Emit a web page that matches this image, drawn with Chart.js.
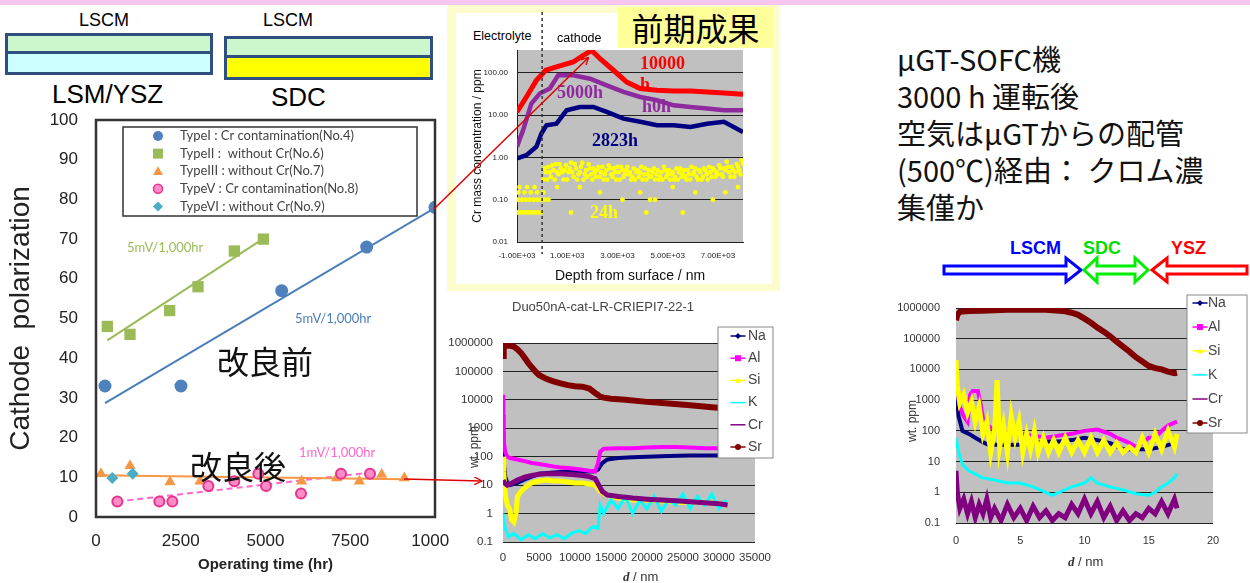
<!DOCTYPE html>
<html>
<head>
<meta charset="utf-8">
<script src="https://cdn.jsdelivr.net/npm/chart.js@4.4.1/dist/chart.umd.min.js"></script>
<style>
body{margin:0;width:1250px;height:583px;overflow:hidden;background:#fff;position:relative;font-family:"Liberation Sans",Arial,sans-serif}
.abs{position:absolute;white-space:nowrap}
canvas{position:absolute}
.jp{font-family:"Noto Sans CJK JP",sans-serif}
.ser{font-family:"Liberation Serif","Times New Roman",serif;font-weight:bold;font-size:18px;line-height:18px}
.lay{position:absolute;box-sizing:border-box;border:3px solid #2f4f7f}
.lay div{box-sizing:border-box}
</style>
</head>
<body>
<div class="abs" style="left:0;top:0;width:1250px;height:5px;background:#f6c6f1"></div>

<!-- cell layer sketches -->
<div class="abs" style="left:79px;top:10px;font-size:18px">LSCM</div>
<div class="abs" style="left:263px;top:10px;font-size:18px">LSCM</div>
<div class="lay" style="left:5px;top:33px;width:208px;height:42px">
  <div style="height:18px;background:#ccf7cc;border-bottom:3px solid #2f4f7f"></div>
  <div style="height:18px;background:#ccffff"></div>
</div>
<div class="lay" style="left:224px;top:36px;width:209px;height:44px">
  <div style="height:19px;background:#ccf7cc;border-bottom:3px solid #2f4f7f"></div>
  <div style="height:19px;background:#ffff00"></div>
</div>
<div class="abs" style="left:52px;top:79px;font-size:26px">LSM/YSZ</div>
<div class="abs" style="left:271px;top:82px;font-size:26px">SDC</div>

<!-- frame of the earlier result -->
<div class="abs" style="left:447px;top:5px;width:333px;height:286px;background:#fdfccc"></div>
<div class="abs" style="left:456px;top:13px;width:316px;height:271px;background:#fff"></div>
<div class="abs jp" style="left:618px;top:7px;width:155px;height:41px;background:#ffff99;font-size:32px;line-height:41px;text-align:center">前期成果</div>

<canvas id="main" width="450" height="473" style="left:0;top:110px"></canvas>
<canvas id="crdepth" width="310" height="275" style="left:455px;top:12px"></canvas>
<canvas id="elemA" width="340" height="268" style="left:440px;top:315px"></canvas>
<canvas id="elemB" width="370" height="293" style="left:880px;top:290px"></canvas>

<!-- main chart notes -->
<div class="abs" style="left:127px;top:239px;font-size:13px;color:#9bbb59;font-family:Lato,sans-serif">5mV/1,000hr</div>
<div class="abs" style="left:295px;top:310px;font-size:13px;color:#4a7ebb;font-family:Lato,sans-serif">5mV/1,000hr</div>
<div class="abs" style="left:299px;top:444px;font-size:13px;color:#ff66cc;font-family:Lato,sans-serif">1mV/1,000hr</div>
<div class="abs jp" style="left:217px;top:338px;font-size:32px;line-height:44px;color:#111">改良前</div>
<div class="abs jp" style="left:190px;top:443px;font-size:32px;line-height:44px;color:#111">改良後</div>

<!-- Cr depth chart notes -->
<div class="abs" style="left:472px;top:28px;font-size:12.5px;background:#fff;padding:1px 1px">Electrolyte</div>
<div class="abs" style="left:553px;top:30px;font-size:12.5px;background:#fff;padding:1px 4px">cathode</div>
<div class="abs ser" style="left:640px;top:54px;color:#ff0000">10000</div>
<div class="abs ser" style="left:640px;top:75px;color:#ff0000">h</div>
<div class="abs ser" style="left:557px;top:83px;color:#8e2a9e">5000h</div>
<div class="abs ser" style="left:642px;top:97px;color:#8e2a9e">h0h</div>
<div class="abs ser" style="left:592px;top:131px;color:#000080">2823h</div>
<div class="abs ser" style="left:590px;top:203px;color:#ffff00">24h</div>

<!-- element profile notes -->
<div class="abs" style="left:512px;top:299px;font-size:13px;color:#444">Duo50nA-cat-LR-CRIEPI7-22-1</div>
<div class="abs" style="left:467px;top:468px;font-size:12px;color:#333;transform:rotate(-90deg);transform-origin:left top">wt. ppm</div>
<div class="abs" style="left:623px;top:569px;font-size:13px;color:#333"><i style="font-family:'Liberation Serif',serif;font-weight:bold">d</i> / nm</div>
<div class="abs" style="left:905px;top:442px;font-size:12px;color:#333;transform:rotate(-90deg);transform-origin:left top">wt. ppm</div>
<div class="abs" style="left:1068px;top:554px;font-size:13px;color:#333"><i style="font-family:'Liberation Serif',serif;font-weight:bold">d</i> / nm</div>

<!-- right notes -->
<div class="abs jp" style="left:897px;top:40px;font-size:29px;line-height:37px;color:#111">μGT-SOFC機<br>3000 h 運転後<br>空気はμGTからの配管<br>(500℃)経由： クロム濃<br>集僅か</div>
<div class="abs" style="left:1010px;top:238px;font-size:18px;font-weight:bold;color:#0000ff;font-family:'Liberation Sans Narrow','Liberation Sans',sans-serif">LSCM</div>
<div class="abs" style="left:1083px;top:238px;font-size:18px;font-weight:bold;color:#00dd00;font-family:'Liberation Sans Narrow','Liberation Sans',sans-serif">SDC</div>
<div class="abs" style="left:1171px;top:238px;font-size:18px;font-weight:bold;color:#ff0000;font-family:'Liberation Sans Narrow','Liberation Sans',sans-serif">YSZ</div>

<svg class="abs" width="1250" height="583" style="left:0;top:0;pointer-events:none">
  <defs>
    <marker id="ah" markerWidth="8" markerHeight="8" refX="7" refY="4" orient="auto" markerUnits="userSpaceOnUse">
      <path d="M0,0 L8,4 L0,8" fill="none" stroke="#e00000" stroke-width="1.3"/>
    </marker>
  </defs>
  <line x1="434" y1="209" x2="588" y2="58" stroke="#e00000" stroke-width="1.5" marker-end="url(#ah)"/>
  <line x1="404" y1="479" x2="481" y2="481" stroke="#e00000" stroke-width="1.5" marker-end="url(#ah)"/>
  <polygon points="944,266 1066,266 1066,258 1081,270 1066,282 1066,274 944,274" fill="#fff" stroke="#0000ff" stroke-width="3"/>
  <polygon points="1084,270 1097,258 1097,266 1135,266 1135,258 1148,270 1135,282 1135,274 1097,274 1097,282" fill="#fff" stroke="#00ee00" stroke-width="3"/>
  <polygon points="1152,270 1167,258 1167,266 1247,266 1247,274 1167,274 1167,282" fill="#fff" stroke="#ff0000" stroke-width="3"/>
</svg>

<script>
// ---- cathode polarization vs operating time (hr, mV) ----
const typeI   = [[265,33],[2507,33],[5477,57],[7984,68],[10000,78]];
const typeII  = [[334,48],[1003,46],[2173,52],[3009,58],[4081,67],[4936,70]];
const typeIII = [[147,10.9],[1003,12.9],[2183,8.8],[3068,9],[6067,9],[7099,9.8],[7768,9],[8427,10.7],[9095,9.8]];
const typeV   = [[629,3.9],[1868,3.9],[2252,3.9],[3314,7.8],[4081,9],[4789,10.9],[5015,7.8],[6047,5.9],[7227,10.9],[8083,10.9]];
const typeVI  = [[482,9.8],[1082,10.9]];
const fitI    = [[265,28.7],[10000,77.9]];
const fitII   = [[334,44.5],[4936,70.1]];
const fitIII  = [[0,10.5],[9095,9.5]];
const fitV    = [[629,3.9],[8083,11.2]];
const typeLabels = ['TypeI : Cr contamination(No.4)', 'TypeII :  without Cr(No.6)', 'TypeIII : without Cr(No.7)',
  'TypeV : Cr contamination(No.8)', 'TypeVI : without Cr(No.9)'];

// ---- Cr depth profiles (nm, ppm) ----
const cr10000h = [[-1000,12],[-627,27],[-227,67],[147,116],[573,139],[1240,182],[1640,261],[1973,340],[2307,218],[2840,116],
  [3373,61],[3907,43],[4573,39],[5240,37.6],[5907,37.6],[6573,35.6],[7240,33.7],[8000,31.3]];
const cr5000h = [[-1000,1.8],[-760,4.4],[-427,18.9],[-93,32.5],[307,43],[640,88],[1240,88],[1907,73],[2573,51],[3240,35.6],
  [3907,27],[4573,22.6],[5240,17.2],[5907,15.7],[6573,14.4],[7240,13.1],[8000,13.1]];
const cr2823h = [[-1000,0.95],[-627,1.13],[-227,1.8],[-27,3.7],[173,5.8],[573,6.3],[973,13.1],[1507,15.7],[2040,15.7],[2573,12],
  [3240,8.3],[3907,7],[4573,5.8],[5240,5.8],[5907,5.3],[6573,6.3],[7240,7],[8000,4]];
const cr24h = [[-950,0.05],[-850,0.05],[-750,0.05],[-650,0.05],[-550,0.05],[-450,0.05],[-350,0.05],[-250,0.05],[-150,0.05],[-50,0.05],
  [-950,0.1],[-800,0.1],[-650,0.1],[-500,0.1],[-350,0.1],[-200,0.1],[-50,0.1],[100,0.1],[250,0.1],
  [-950,0.15],[-700,0.15],[-450,0.15],[-200,0.15],[50,0.15],[-900,0.2],[-600,0.2],[-300,0.2],
  [50,0.3],[150,0.45],[250,0.6],[350,0.35],[450,0.5],[550,0.7],[650,0.4],[750,0.55],[850,0.3],[950,0.65],[1050,0.45],[1150,0.75],
  [1250,0.35],[1350,0.55],[1450,0.4],[1550,0.6],[1650,0.3],[1750,0.5],[1850,0.7],[1950,0.4],[2050,0.55],[2150,0.35],[2250,0.6],
  [2350,0.45],[2450,0.3],[2550,0.5],[2650,0.65],[2750,0.4],[2850,0.55],[2950,0.3],[3050,0.45],[3150,0.6],[3250,0.35],[3350,0.5],
  [3450,0.4],[3550,0.3],[3650,0.55],[3750,0.45],[3850,0.35],[3950,0.6],[4050,0.4],[4150,0.3],[4250,0.5],[4350,0.35],[4450,0.55],
  [4550,0.4],[4650,0.3],[4750,0.45],[4850,0.6],[4950,0.35],[5050,0.5],[5150,0.4],[5250,0.3],[5350,0.55],[5450,0.45],[5550,0.35],
  [5650,0.5],[5750,0.3],[5850,0.4],[5950,0.6],[6050,0.45],[6150,0.35],[6250,0.5],[6350,0.3],[6450,0.55],[6550,0.4],[6650,0.6],
  [6750,0.35],[6850,0.5],[6950,0.45],[7050,0.65],[7150,0.4],[7250,0.55],[7350,0.8],[7450,0.45],[7550,0.6],[7650,0.35],[7750,0.7],
  [7850,0.5],[7950,0.85],[1150,0.05],[3200,0.1],[4300,0.1],[4500,0.1],[4150,0.05],[5600,0.05],[6800,0.1],[7300,0.15],
  [2300,0.15],[3900,0.15],[6100,0.15],[600,0.2],[1500,0.2],[5200,0.2],[7800,0.2],
  [100,0.55],[200,0.3],[300,0.45],[400,0.65],[500,0.3],[600,0.45],[700,0.7],[800,0.45],[900,0.5],[1000,0.3],[1100,0.55],[1200,0.45],
  [1300,0.7],[1400,0.3],[1500,0.45],[1600,0.75],[1700,0.4],[1800,0.35],[1900,0.55],[2000,0.3],[2100,0.45],[2200,0.5],[2300,0.35],
  [2400,0.6],[2500,0.4],[2600,0.3],[2700,0.55],[2800,0.35],[2900,0.45],[3000,0.6],[3100,0.3],[3200,0.5],[3300,0.4],[3400,0.6],
  [3500,0.45],[3600,0.35],[3700,0.3],[3800,0.5],[3900,0.45],[4000,0.3],[4100,0.55],[4200,0.4],[4300,0.35],[4400,0.45],[4500,0.3],
  [4600,0.5],[4700,0.35],[4800,0.3],[4900,0.5],[5000,0.4],[5100,0.3],[5200,0.45],[5300,0.35],[5400,0.3],[5500,0.55],[5600,0.4],
  [5700,0.35],[5800,0.5],[5900,0.3],[6000,0.4],[6100,0.55],[6200,0.3],[6300,0.45],[6400,0.35],[6500,0.5],[6600,0.3],[6700,0.45],
  [6800,0.55],[6900,0.35],[7000,0.4],[7100,0.55],[7200,0.35],[7300,0.5],[7400,0.6],[7500,0.35],[7600,0.5],[7700,0.45],[7800,0.6],
  [7900,0.4],[8000,0.7]];
const crDecades = [0.01, 0.1, 1, 10, 100];
const crDepthTicks = [-1000, 1000, 3000, 5000, 7000];

// ---- element profiles, earlier cell (nm, wt ppm) ----
const naA = [[0,3000],[50,800],[150,50],[300,20],[600,12],[1000,10],[2000,12],[3000,16],[4000,20],[5000,25],[7000,28],[9000,30],
  [11000,30],[12500,30],[13200,35],[13800,60],[14500,80],[16000,90],[18000,95],[20000,100],[23000,105],[26000,110],[29000,110],[31200,110]];
const alA = [[0,15000],[50,1300],[150,300],[300,150],[600,100],[1000,90],[2000,80],[3000,70],[4000,60],[5000,55],[6000,50],[7000,45],
  [8000,42],[9000,40],[10000,38],[11000,35],[12000,32],[12800,30],[13200,60],[13500,150],[14000,190],[16000,200],[18000,200],
  [20000,210],[22000,220],[24000,220],[26000,210],[28000,200],[30000,200],[31200,190]];
const siA = [[0,100],[100,30],[300,5],[600,2],[900,1.5],[1200,0.6],[1500,0.5],[1800,1],[2000,4],[2500,6],[3000,8],[3500,10],
  [4000,12],[5000,14],[6000,15],[7000,14],[8000,14],[9000,13],[10000,12],[11000,12],[12000,11],[12800,10],[13500,6],[14000,5],
  [15000,4],[16000,3.5],[18000,3],[20000,3],[22000,2.8],[24000,2.5],[26000,2.5],[28000,2.5],[30000,2.2],[31200,2]];
const kA = [[0,1],[300,0.3],[800,0.15],[1500,0.2],[2500,0.12],[3500,0.18],[4500,0.13],[5500,0.2],[6500,0.14],[7500,0.18],
  [8500,0.13],[9500,0.2],[10500,0.25],[11500,0.2],[12500,0.35],[13200,0.3],[13500,2],[14000,1],[15000,3],[16000,1.5],[17000,4],
  [18000,1],[19000,3],[20000,1.5],[21000,4],[22000,1.2],[23000,3],[24000,2],[25000,5],[26000,1.5],[27000,4],[28000,2],[29000,5],
  [30000,1.5],[31000,3]];
const crA = [[0,15],[200,12],[600,10],[1000,11],[2000,15],[3000,19],[4000,22],[5000,24],[6000,25],[7000,25],[8000,25],[9000,24],
  [10000,23],[11000,22],[12000,20],[12800,17],[13300,10],[13800,6],[14500,4.5],[16000,4],[18000,3.5],[20000,3.2],[22000,3],
  [24000,2.8],[26000,2.6],[28000,2.4],[30000,2.2],[31200,2]];
const srA = [[0,350000],[100,700000],[300,800000],[1000,800000],[1500,750000],[2000,600000],[2500,450000],[3000,300000],
  [3500,200000],[4000,140000],[4500,100000],[5000,75000],[6000,55000],[7000,45000],[8000,38000],[9000,33000],[10000,30000],
  [11000,29000],[12000,25000],[12500,20000],[13000,16000],[13500,13000],[14000,12000],[15000,11000],[17000,10000],[20000,8500],
  [23000,7500],[26000,6500],[29000,5500],[31000,5000]];

// ---- element profiles, μGT-SOFC after 3000 h (nm, wt ppm) ----
const naB = [[0,3000],[0.2,300],[0.5,100],[1,80],[1.5,60],[2,45],[2.5,35],[3,35],[4,35],[5,35],[6,40],[7,45],[8,45],[9,50],
  [10,60],[11,50],[12,40],[13,25],[14,25],[15,25],[16,30],[17,40]];
const alB = [[0,10000],[0.1,2000],[0.3,600],[0.6,300],[0.9,200],[1.1,1500],[1.3,2000],[1.7,2000],[1.9,800],[2.1,250],[2.5,150],
  [3,100],[3.5,100],[4,90],[5,80],[6,70],[7,60],[8,70],[9,80],[10,100],[11,110],[12,80],[12.5,60],[13,50],[13.5,40],[14,30],
  [14.5,40],[15,60],[15.5,60],[16,100],[16.5,150],[17.2,200]];
const siB = [[0,20000],[0.1,3000],[0.3,800],[0.6,1500],[0.9,400],[1.2,900],[1.5,200],[1.8,600],[2.1,80],[2.4,200],[2.7,20],
  [3,100],[3.2,4500],[3.4,30],[3.7,150],[4,20],[4.3,300],[4.6,60],[4.9,200],[5.2,20],[5.5,80],[5.8,25],[6.1,100],[6.4,20],
  [6.8,60],[7.2,20],[7.6,50],[8,20],[8.5,60],[9,20],[9.5,50],[10,20],[10.5,60],[11,20],[11.5,50],[12,20],[12.5,40],[13,20],
  [13.5,30],[14,20],[14.5,60],[15,20],[15.5,80],[16,25],[16.5,100],[17,30],[17.2,80]];
const kB = [[0,60],[0.2,20],[0.5,8],[1,5],[1.5,4],[2,3],[3,2.5],[4,2],[5,2],[6,1.5],[7,1],[7.5,0.8],[8,1],[9,1.5],[10,2],
  [10.5,3],[11,2],[12,1.5],[13,1.2],[14,0.9],[15,0.8],[15.5,1],[16,1.5],[16.5,2],[17,3],[17.2,4]];
const crB = [[0,5],[0.1,1],[0.3,0.3],[0.6,0.6],[0.9,0.2],[1.2,0.5],[1.5,0.15],[1.8,0.4],[2.1,0.2],[2.4,0.6],[2.7,0.15],[3,0.3],
  [3.5,0.12],[4,0.4],[4.5,0.15],[5,0.3],[5.5,0.12],[6,0.35],[6.5,0.15],[7,0.25],[7.5,0.12],[8,0.2],[8.5,0.15],[9,0.4],[9.5,0.2],
  [10,0.6],[10.5,0.2],[11,0.5],[11.5,0.15],[12,0.35],[12.5,0.12],[13,0.25],[13.5,0.12],[14,0.2],[14.5,0.15],[15,0.3],[15.5,0.2],
  [16,0.5],[16.5,0.2],[17,0.6],[17.2,0.3]];
const srB = [[0,400000],[0.1,600000],[0.3,750000],[1,800000],[2,820000],[3,850000],[4,880000],[5,880000],[6,900000],[7,880000],
  [8,820000],[8.5,780000],[9,700000],[9.5,600000],[10,450000],[10.5,330000],[11,230000],[11.5,170000],[12,120000],[12.5,80000],
  [13,55000],[13.5,38000],[14,25000],[14.5,18000],[15,13000],[15.5,11000],[16,10000],[16.5,8500],[17,7500],[17.2,7800]];
const elemDecades = [0.1, 1, 10, 100, 1000, 10000, 100000, 1000000];
const elemNames = ['Na', 'Al', 'Si', 'K', 'Cr', 'Sr'];

const xy = a => a.map(([x, y]) => ({x, y}));

function drawMarker(c, style, x, y, r, fill, stroke) {
  c.beginPath();
  if (style === 'circle') c.arc(x, y, r, 0, Math.PI * 2);
  else if (style === 'rect') c.rect(x - r, y - r, 2 * r, 2 * r);
  else if (style === 'rectRot') { c.moveTo(x, y - r); c.lineTo(x + r, y); c.lineTo(x, y + r); c.lineTo(x - r, y); c.closePath(); }
  else if (style === 'triangle') { c.moveTo(x, y - r); c.lineTo(x + r, y + r * 0.75); c.lineTo(x - r, y + r * 0.75); c.closePath(); }
  else if (style === 'cross') { c.moveTo(x - r, y); c.lineTo(x + r, y); }
  else if (style === 'star') { c.moveTo(x - r, y - r); c.lineTo(x + r, y + r); c.moveTo(x - r, y + r); c.lineTo(x + r, y - r); c.moveTo(x, y - r); c.lineTo(x, y + r); }
  if (fill && style !== 'cross' && style !== 'star') { c.fillStyle = fill; c.fill(); }
  if (stroke) { c.strokeStyle = stroke; c.lineWidth = 1.5; c.stroke(); }
}

const plotBg = {
  id: 'plotBg',
  beforeDraw(chart, args, o) {
    if (!o.color) return;
    const {left, top, width, height} = chart.chartArea;
    chart.ctx.save();
    chart.ctx.fillStyle = o.color;
    chart.ctx.fillRect(left, top, width, height);
    chart.ctx.restore();
  }
};

const frame = {
  id: 'frame',
  afterDraw(chart, args, o) {
    if (!o.color) return;
    const {left, top, width, height} = chart.chartArea;
    const c = chart.ctx;
    c.save();
    c.strokeStyle = o.color;
    c.lineWidth = o.width;
    c.strokeRect(left, top, width, height);
    c.restore();
  }
};

const vDash = {
  id: 'vDash',
  afterDraw(chart, args, o) {
    if (o.at === undefined) return;
    const c = chart.ctx;
    const px = chart.scales.x.getPixelForValue(o.at);
    c.save();
    c.setLineDash([3, 3]);
    c.strokeStyle = '#333';
    c.lineWidth = 1.5;
    c.beginPath();
    c.moveTo(px, 0);
    c.lineTo(px, chart.chartArea.bottom + 12);
    c.stroke();
    c.restore();
  }
};

const boxLegend = {
  id: 'boxLegend',
  afterDraw(chart, args, o) {
    if (!o.items) return;
    const c = chart.ctx;
    c.save();
    c.fillStyle = '#fff';
    c.fillRect(o.x, o.y, o.w, o.h);
    c.strokeStyle = o.border;
    c.lineWidth = o.borderWidth;
    c.strokeRect(o.x, o.y, o.w, o.h);
    c.font = o.font;
    c.textBaseline = 'middle';
    o.items.forEach((it, i) => {
      const y = o.y0 + i * o.dy;
      if (o.lineLen) {
        c.strokeStyle = it.color;
        c.lineWidth = 1.5;
        c.beginPath();
        c.moveTo(o.mx - o.lineLen / 2, y);
        c.lineTo(o.mx + o.lineLen / 2, y);
        c.stroke();
      }
      drawMarker(c, it.style, o.mx, y, it.r, it.color, it.stroke);
      c.fillStyle = o.textColor;
      c.fillText(it.text, o.tx, y);
    });
    c.restore();
  }
};

Chart.register(plotBg, frame, vDash, boxLegend);
Chart.defaults.font.family = '"Liberation Sans", Arial, sans-serif';
Chart.defaults.color = '#222';

// keep the plot boxes where they are, whatever the tick labels stick out
const fixX = h => s => { s.height = h; s.paddingLeft = 0; s.paddingRight = 0; };
const fixY = w => s => { s.width = w; s.paddingTop = 0; s.paddingBottom = 0; };

function fitLine(data, color, dash) {
  return {data: xy(data), showLine: true, borderColor: color, borderWidth: 2, borderDash: dash || [], pointRadius: 0, tension: 0};
}
function marks(data, style, r, fill, stroke) {
  return {data: xy(data), pointStyle: style, pointRadius: r, backgroundColor: fill,
    borderColor: stroke || fill, borderWidth: stroke ? 2 : 0, showLine: false};
}

// main chart
new Chart(document.getElementById('main'), {
  type: 'scatter',
  data: {
    datasets: [
      marks(typeI, 'circle', 6.5, '#4f81bd'),
      marks(typeII, 'rect', 8, '#9bbb59'),
      marks(typeV, 'circle', 5, '#ff8cc6', '#e8338f'),
      marks(typeVI, 'rectRot', 6, '#4bacc6'),
      marks(typeIII, 'triangle', 6.5, '#f79646'),
      fitLine(fitI, '#4a7ebb'),
      fitLine(fitII, '#9bbb59'),
      fitLine(fitIII, '#f79646'),
      fitLine(fitV, '#ff66cc', [6, 4])
    ]
  },
  options: {
    responsive: false,
    animation: false,
    devicePixelRatio: 1,
    layout: {padding: {left: 0, top: 10, right: 15, bottom: 0}},
    scales: {
      x: {
        type: 'linear', min: 0, max: 10000,
        afterFit: fixX(66),
        grid: {display: false, drawTicks: false},
        border: {display: false},
        ticks: {stepSize: 2500, padding: 14, font: {size: 17}, color: '#222', maxRotation: 0, autoSkip: false, callback: v => String(v)},
        title: {display: true, text: 'Operating time (hr)', font: {size: 15, weight: 'bold'}, color: '#222', padding: {top: 4, bottom: 9}}
      },
      y: {
        min: 0, max: 100,
        afterFit: fixY(96),
        grid: {display: false, drawTicks: false},
        border: {display: false},
        ticks: {stepSize: 10, padding: 18, font: {size: 17}, color: '#222'},
        title: {display: true, text: 'Cathode  polarization', font: {size: 28}, color: '#222', padding: {top: 4, bottom: 4}}
      }
    },
    plugins: {
      legend: {display: false},
      tooltip: {enabled: false},
      frame: {color: '#333', width: 2.5},
      boxLegend: {
        x: 123, y: 17, w: 294, h: 89, border: '#333', borderWidth: 1.5,
        y0: 26, dy: 17.6, mx: 158, tx: 180, font: '13px Lato, sans-serif', textColor: '#444',
        items: [
          {text: typeLabels[0], style: 'circle', r: 5, color: '#4f81bd'},
          {text: typeLabels[1], style: 'rect', r: 5, color: '#9bbb59'},
          {text: typeLabels[2], style: 'triangle', r: 5, color: '#f79646'},
          {text: typeLabels[3], style: 'circle', r: 4.5, color: '#ff8cc6', stroke: '#e8338f'},
          {text: typeLabels[4], style: 'rectRot', r: 5, color: '#4bacc6'}
        ]
      }
    }
  }
});

// Cr depth profiles
new Chart(document.getElementById('crdepth'), {
  type: 'scatter',
  data: {
    datasets: [
      {data: xy(cr10000h), showLine: true, borderColor: '#ff0000', borderWidth: 5, pointRadius: 0},
      {data: xy(cr5000h), showLine: true, borderColor: '#8e2a9e', borderWidth: 4.5, pointRadius: 0},
      {data: xy(cr2823h), showLine: true, borderColor: '#000080', borderWidth: 4.5, pointRadius: 0},
      {data: xy(cr24h), showLine: false, backgroundColor: '#ffff00', borderWidth: 0, pointRadius: 2.4}
    ]
  },
  options: {
    responsive: false,
    animation: false,
    devicePixelRatio: 1,
    layout: {padding: {left: 0, top: 38, right: 22, bottom: 0}},
    scales: {
      x: {
        type: 'linear', min: -1000, max: 8000,
        afterFit: fixX(45),
        afterBuildTicks: s => { s.ticks = crDepthTicks.map(v => ({value: v})); },
        grid: {display: false, drawTicks: false},
        border: {display: true, color: '#222', width: 1},
        ticks: {padding: 9, font: {size: 8}, color: '#222', maxRotation: 0, autoSkip: false,
          callback: v => (v < 0 ? '-' : '') + (Math.abs(v) / 1000).toFixed(2) + 'E+03'},
        title: {display: true, text: 'Depth from surface / nm', font: {size: 14}, color: '#111', padding: {top: 2, bottom: 2}}
      },
      y: {
        type: 'logarithmic', min: 0.01, max: 350,
        afterFit: fixY(62),
        afterBuildTicks: s => { s.ticks = crDecades.map(v => ({value: v})); },
        grid: {color: '#222', lineWidth: 1, drawTicks: false},
        border: {display: true, color: '#222', width: 1},
        ticks: {padding: 9, font: {size: 8}, color: '#222', callback: v => Number(v).toFixed(2)},
        title: {display: true, text: 'Cr mass concentration / ppm', font: {size: 12}, color: '#111', padding: {top: 15, bottom: 2}}
      }
    },
    plugins: {
      legend: {display: false},
      tooltip: {enabled: false},
      plotBg: {color: '#c0c0c0'},
      vDash: {at: 0}
    }
  }
});

const elemColors = ['#000080', '#ff00ff', '#ffff00', '#00ffff', '#800080', '#800000'];
const elemStyles = ['rectRot', 'rect', 'triangle', 'cross', 'star', 'circle'];
const elemWidths = [4, 4, 5, 3, 5, 6];

function elemChart(id, series, xMax, xStep, pad, axisW, axisH, yPad, xPad, tickSize, legend) {
  new Chart(document.getElementById(id), {
    type: 'scatter',
    data: {
      datasets: series.map((s, i) => ({
        data: xy(s), showLine: true, borderColor: elemColors[i], borderWidth: elemWidths[i], pointRadius: 0, tension: 0,
        order: i === 5 ? 0 : 6 - i
      }))
    },
    options: {
      responsive: false,
      animation: false,
      devicePixelRatio: 1,
      layout: {padding: pad},
      scales: {
        x: {
          type: 'linear', min: 0, max: xMax,
          afterFit: fixX(axisH),
          grid: {display: false, drawTicks: false},
          border: {display: false},
          ticks: {stepSize: xStep, padding: xPad, font: {size: tickSize}, color: '#333', maxRotation: 0, autoSkip: false,
            callback: v => String(v)}
        },
        y: {
          type: 'logarithmic', min: 0.1, max: 1000000,
          afterFit: fixY(axisW),
          afterBuildTicks: s => { s.ticks = elemDecades.map(v => ({value: v})); },
          grid: {color: '#222', lineWidth: 1, drawTicks: false},
          border: {display: false},
          ticks: {padding: yPad, font: {size: tickSize}, color: '#333', callback: v => String(v)}
        }
      },
      plugins: {
        legend: {display: false},
        tooltip: {enabled: false},
        plotBg: {color: '#c0c0c0'},
        boxLegend: Object.assign({
          border: '#888', borderWidth: 1, font: '14px "Liberation Sans", Arial, sans-serif', textColor: '#444', lineLen: 15,
          items: elemNames.map((n, i) => ({text: n, style: elemStyles[i], r: 3, color: elemColors[i]}))
        }, legend)
      }
    }
  });
}

elemChart('elemA', [naA, alA, siA, kA, crA, srA], 35000, 5000,
  {left: 0, top: 28, right: 25, bottom: 0}, 63, 41, 10, 9, 11.5,
  {x: 278, y: 12, w: 55, h: 131, y0: 21, dy: 22.2, mx: 298, tx: 308});

elemChart('elemB', [naB, alB, siB, kB, crB, srB], 20, 5,
  {left: 0, top: 18, right: 37, bottom: 0}, 76, 60, 16, 11, 11,
  {x: 307, y: 5, w: 60, h: 138, y0: 13, dy: 24, mx: 320, tx: 328});
</script>
</body>
</html>
